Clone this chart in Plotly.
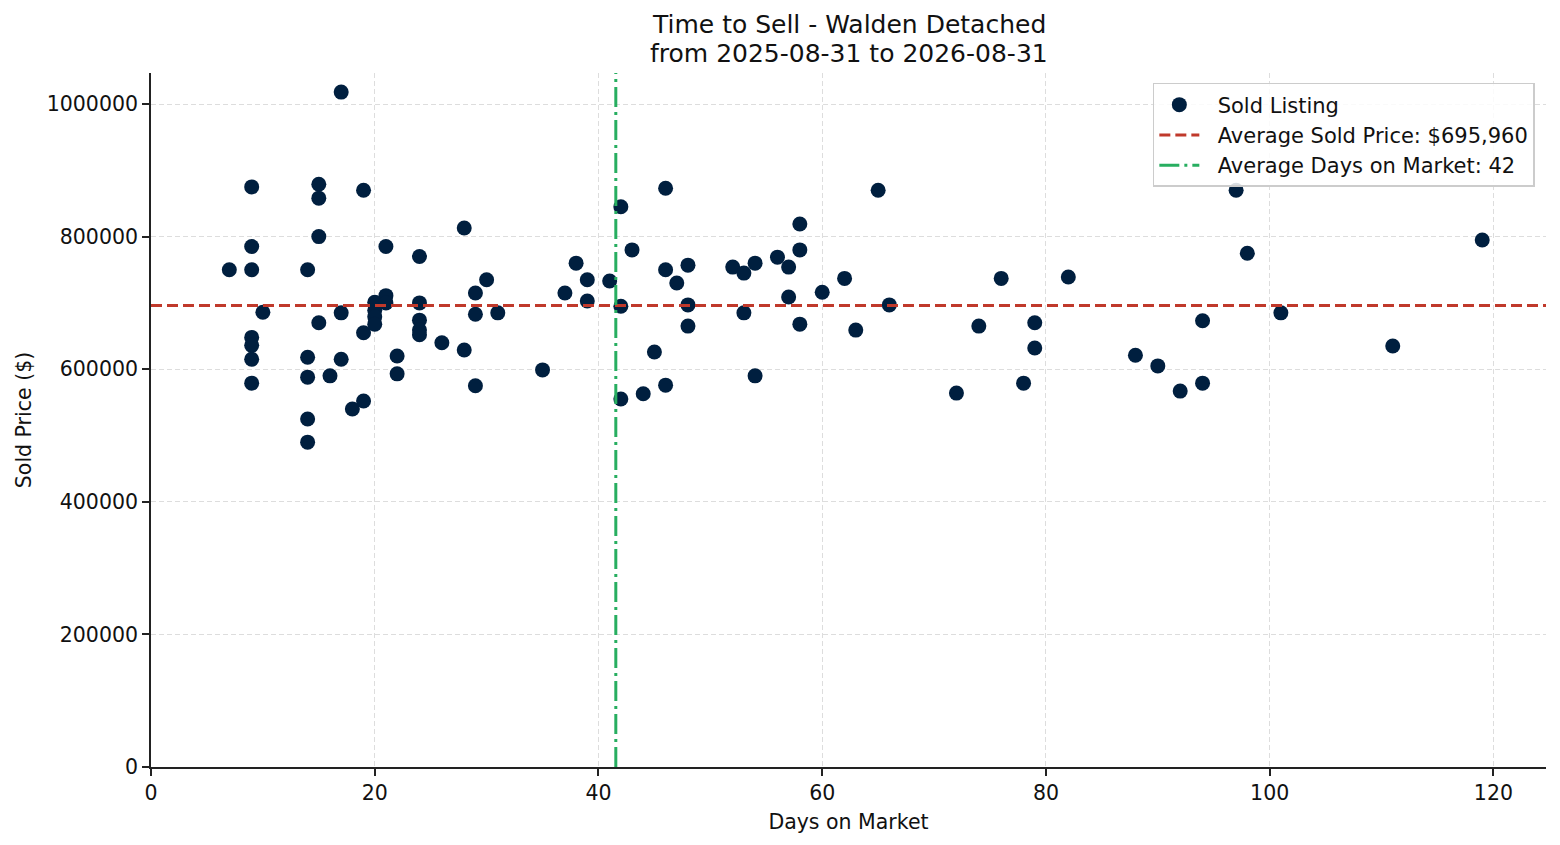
import plotly.graph_objects as go

# sold listings
days_on_market = [
    7, 9, 9, 9, 9, 9, 9, 9, 10,
    14, 14, 14, 14, 14, 15, 15, 15, 15, 16,
    17, 17, 17, 18, 19, 19, 19,
    20, 20, 20, 20, 21, 21, 21, 22, 22,
    24, 24, 24, 24, 24, 26, 28, 28,
    29, 29, 29, 30, 31, 35, 37, 38, 39, 39,
    41, 42, 42, 42, 43, 44, 45, 46, 46, 46, 47,
    48, 48, 48, 52, 53, 53, 54, 54, 56, 57, 57,
    58, 58, 58, 60, 62, 63, 65, 66, 72, 74, 76,
    78, 79, 79, 82, 88, 90, 92, 94, 94, 97, 98,
    101, 111, 119,
]
sold_price = [
    750000, 875000, 785000, 750000, 648000, 636000, 615000, 579000, 686000,
    750000, 618000, 588000, 525000, 490000, 879000, 858000, 800000, 670000, 590000,
    1018000, 685000, 615000, 540000, 870000, 655000, 552000,
    701000, 689000, 679000, 668000, 785000, 711000, 700000, 620000, 593000,
    770000, 700000, 674000, 659000, 652000, 640000, 813000, 629000,
    715000, 683000, 575000, 735000, 685000, 599000, 715000, 760000, 735000, 703000,
    733000, 845000, 695000, 555000, 780000, 563000, 626000, 873000, 750000, 576000, 730000,
    757000, 697000, 665000, 754000, 745000, 685000, 760000, 590000, 769000, 754000, 709000,
    819000, 780000, 668000, 716000, 737000, 659000, 870000, 697000, 564000, 665000, 737000,
    579000, 670000, 632000, 739000, 621000, 605000, 567000, 673000, 579000, 870000, 775000,
    685000, 635000, 795000,
]

avg_price = 695960
avg_days = 41.55
x_max = 124.7
y_max = 1046800

title_lines = ["Time to Sell - Walden Detached", "from 2025-08-31 to 2026-08-31"]

fig = go.Figure()

# "\u00a0" keeps a small gap between legend symbol and label
fig.add_trace(go.Scatter(
    x=days_on_market, y=sold_price, mode="markers", name="\u00a0\u00a0Sold Listing",
    marker=dict(color="#001f3f", size=15, line=dict(width=0)),
))

# average lines
fig.add_trace(go.Scatter(
    x=[0, x_max], y=[avg_price, avg_price], mode="lines",
    name=f"\u00a0\u00a0Average Sold Price: ${avg_price:,}",
    line=dict(color="#c0392b", width=3, dash="11px,5px"),
))
fig.add_trace(go.Scatter(
    x=[avg_days, avg_days], y=[0, y_max], mode="lines",
    name=f"\u00a0\u00a0Average Days on Market: {round(avg_days)}",
    line=dict(color="#27ae60", width=3, dash="20px,5px,3px,5px"),
))

axis_style = dict(
    showline=True, linecolor="#222", linewidth=1.7,
    ticks="outside", ticklen=7, tickcolor="#222", tickwidth=1.7,
    showgrid=True, gridcolor="#dddddd", gridwidth=1, griddash="5px,3px",
    zeroline=False, mirror=False,
    tickfont=dict(size=20.5, color="#111"),
)

# title as two centred lines above the plot
for line_text, ypos in zip(title_lines, [1.0692, 1.0288]):
    fig.add_annotation(
        text=line_text, xref="paper", yref="paper", x=0.5, y=ypos,
        xanchor="center", yanchor="middle", showarrow=False,
        font=dict(size=25, color="#111"),
    )

fig.update_layout(
    width=1552, height=837,
    paper_bgcolor="white", plot_bgcolor="white",
    font=dict(family="DejaVu Sans", color="#111"),
    margin=dict(l=143, r=14, t=65, b=78),
    xaxis=dict(axis_style, range=[0, x_max], dtick=20,
               title=dict(text="Days on Market", font=dict(size=20.5), standoff=10)),
    yaxis=dict(axis_style, range=[0, y_max], dtick=200000, tickformat="d",
               title=dict(text="Sold Price ($)", font=dict(size=20.5), standoff=10)),
    legend=dict(
        x=0.992, xanchor="right", y=0.9856, yanchor="top",
        bgcolor="rgba(255,255,255,0.85)", bordercolor="#cccccc", borderwidth=1.5,
        font=dict(size=21, color="#111"), tracegroupgap=0, itemwidth=40,
    ),
    showlegend=True,
)

fig.write_html("out.html")
